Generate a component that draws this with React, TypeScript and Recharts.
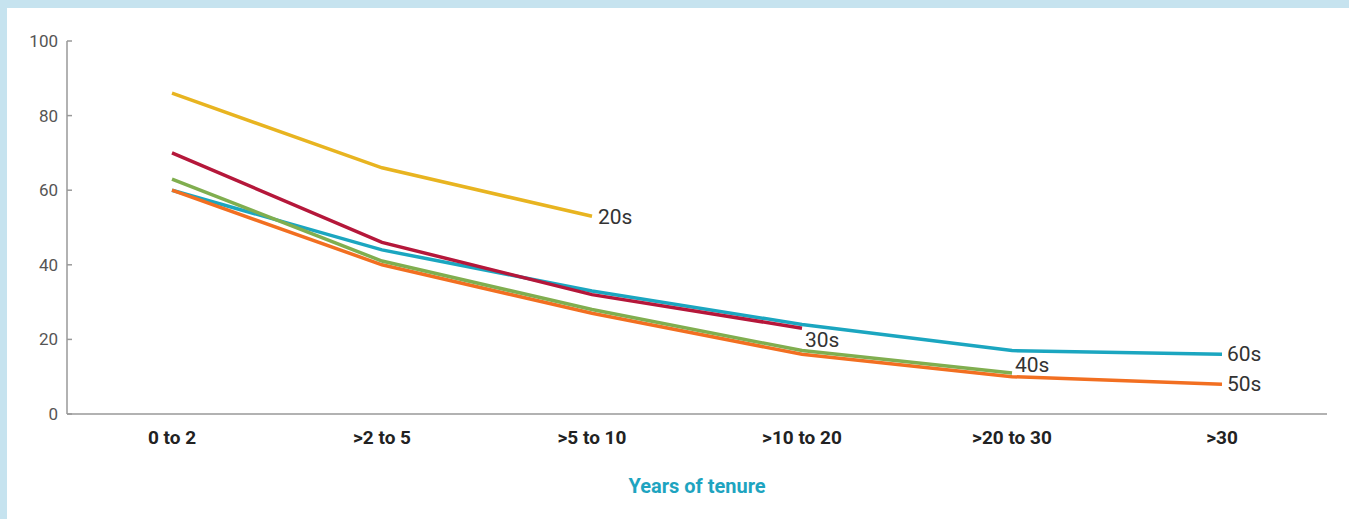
import { LineChart, Line, XAxis, YAxis, Label } from "recharts";

const categories = ["0 to 2", ">2 to 5", ">5 to 10", ">10 to 20", ">20 to 30", ">30"];
const twenties = [86, 66, 53];
const thirties = [70, 46, 32, 23];
const forties = [63, 41, 28, 17, 11];
const fifties = [60, 40, 27, 16, 10, 8];
const sixties = [60, 44, 33, 24, 17, 16];
const yTicks = [0, 20, 40, 60, 80, 100];

const data = categories.map((name, i) => ({
    name,
    s20: twenties[i],
    s30: thirties[i],
    s40: forties[i],
    s50: fifties[i],
    s60: sixties[i],
}));

const FONT = "Roboto, 'Noto Sans', sans-serif";

// draws the series name next to its last point only
const endLabel =
    (text: string, lastIndex: number, dx: number, dy: number) =>
    (props: any) => {
        if (props.index !== lastIndex) return <g key={props.index} />;
        return (
            <text
                key={props.index}
                x={props.x + dx}
                y={props.y + dy}
                dominantBaseline="central"
                fontFamily={FONT}
                fontSize={21}
                fill="#333"
            >
                {text}
            </text>
        );
    };

export default function App() {
    return (
        <div
            style={{
                position: "absolute",
                left: 0,
                top: 0,
                width: 1349,
                height: 519,
                background: "#c6e3ef",
            }}
        >
            <div
                style={{
                    position: "absolute",
                    left: 7,
                    top: 8,
                    right: 0,
                    bottom: 0,
                    background: "#fff",
                }}
            />
            <div style={{ position: "absolute", left: 0, top: 0 }}>
                <LineChart
                    width={1349}
                    height={519}
                    data={data}
                    margin={{ top: 41, right: 22, left: 0, bottom: 30 }}
                >
                    <XAxis
                        dataKey="name"
                        height={75}
                        padding={{ left: 105, right: 105 }}
                        tickLine={false}
                        tickSize={0}
                        tickMargin={17}
                        stroke="#999"
                        strokeWidth={1.5}
                        tick={{ fill: "#222", fontSize: 19, fontWeight: 700, fontFamily: FONT }}
                    >
                        <Label
                            value="Years of tenure"
                            position="insideBottom"
                            offset={-4}
                            fill="#1ea4c0"
                            fontSize={20}
                            fontWeight={700}
                            fontFamily={FONT}
                        />
                    </XAxis>
                    <YAxis
                        width={67}
                        domain={[0, 100]}
                        ticks={yTicks}
                        tickSize={-5}
                        tickMargin={14}
                        stroke="#999"
                        strokeWidth={1.5}
                        tick={{ fill: "#555", fontSize: 17, fontFamily: FONT }}
                    />
                    <Line dataKey="s60" stroke="#1ba6c0" strokeWidth={3.5} dot={false}
                        isAnimationActive={false} label={endLabel("60s", 5, 5, 0)} />
                    <Line dataKey="s50" stroke="#f26f21" strokeWidth={3.5} dot={false}
                        isAnimationActive={false} label={endLabel("50s", 5, 5, 0)} />
                    <Line dataKey="s40" stroke="#80ae4f" strokeWidth={3.5} dot={false}
                        isAnimationActive={false} label={endLabel("40s", 4, 3, -8)} />
                    <Line dataKey="s30" stroke="#b5173a" strokeWidth={3.5} dot={false}
                        isAnimationActive={false} label={endLabel("30s", 3, 3, 12)} />
                    <Line dataKey="s20" stroke="#e8b420" strokeWidth={3.5} dot={false}
                        isAnimationActive={false} label={endLabel("20s", 2, 6, 1)} />
                </LineChart>
            </div>
        </div>
    );
}
